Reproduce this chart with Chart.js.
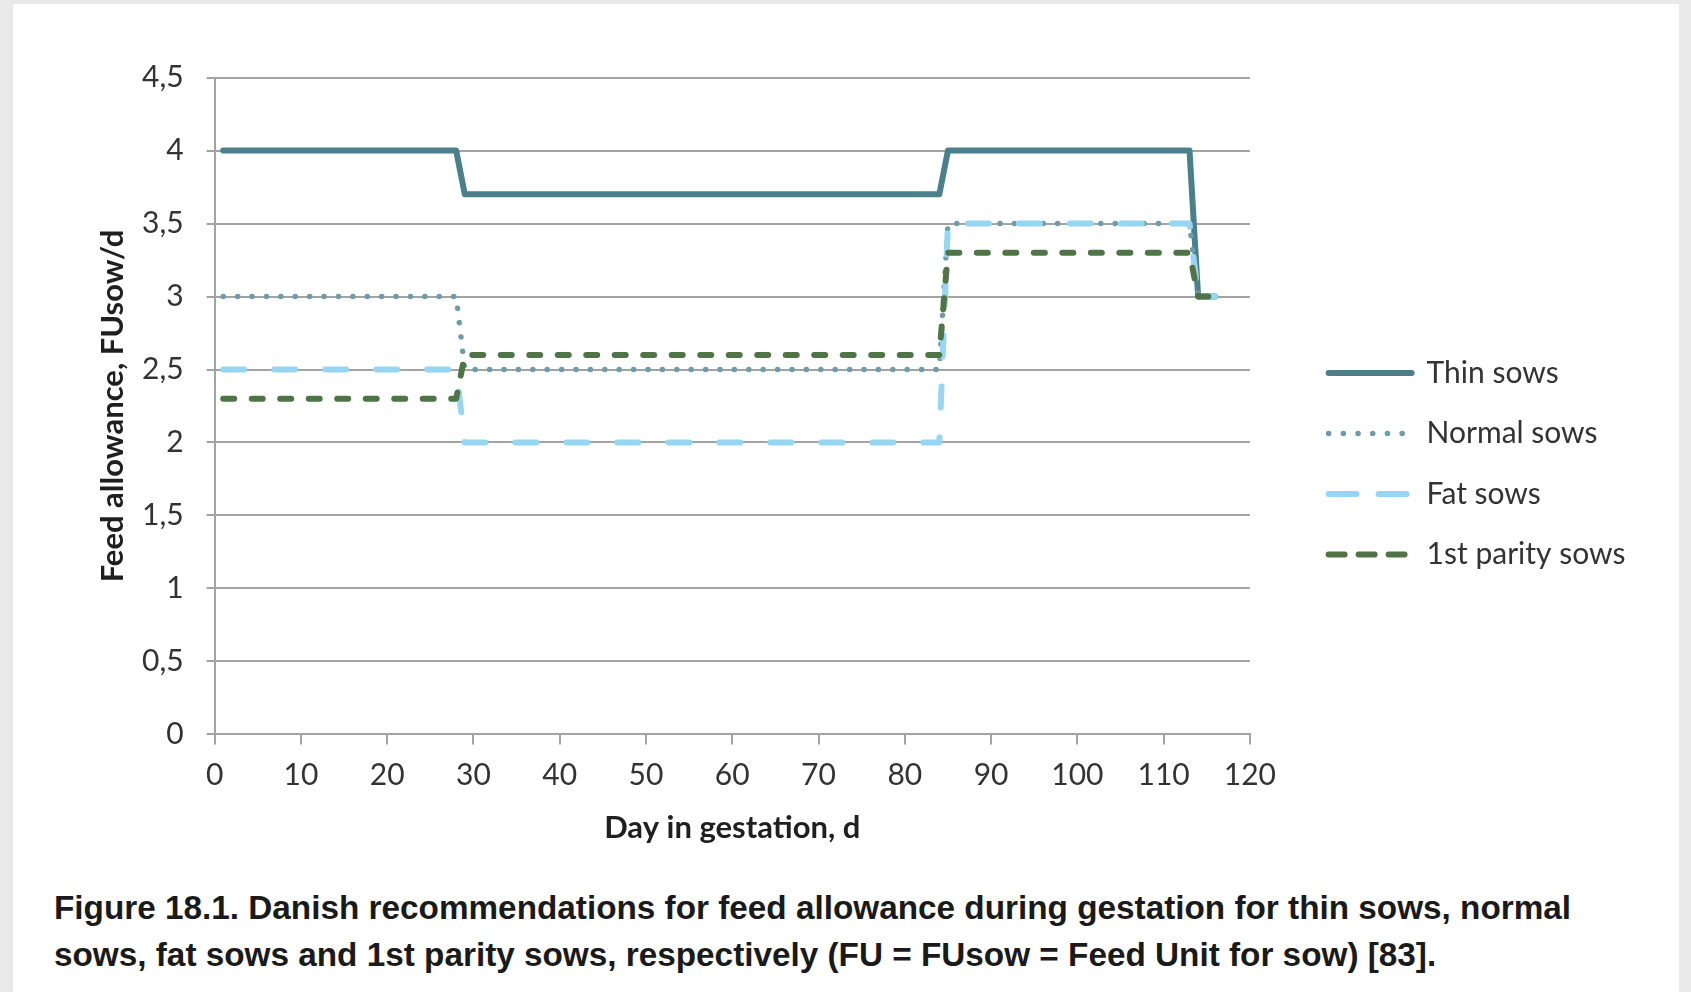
<!DOCTYPE html>
<html>
<head>
<meta charset="utf-8">
<script src="https://cdn.jsdelivr.net/npm/chart.js@4.4.1/dist/chart.umd.min.js"></script>
<style>
  html, body { margin: 0; padding: 0; background: #e9e9e9; }
  #sheet { position: absolute; left: 13px; top: 4px; width: 1666px; height: 988px; background: #fff; }
  #chart { position: absolute; left: 0; top: 0; }
  #caption {
    position: absolute; left: 54px; top: 884px;
    font: bold 33.3px "Liberation Sans", Arial, sans-serif;
    line-height: 47px; color: #1a1a1a; white-space: nowrap;
  }
</style>
</head>
<body>
<div id="sheet"></div>
<canvas id="chart" width="1691" height="850"></canvas>
<div id="caption">Figure 18.1. Danish recommendations for feed allowance during gestation for thin sows, normal<br>sows, fat sows and 1st parity sows, respectively (FU = FUsow = Feed Unit for sow) [83].</div>

<script>
// ---- data ----
const dayPoints   = [1, 28, 29, 84, 85, 113, 114, 116];
const thinSows    = [4, 4, 3.7, 3.7, 4, 4, 3, 3];
const normalSows  = [3, 3, 2.5, 2.5, 3.5, 3.5, 3, 3];
const fatSows     = [2.5, 2.5, 2, 2, 3.5, 3.5, 3, 3];
const firstParity = [2.3, 2.3, 2.6, 2.6, 3.3, 3.3, 3, 3];

const seriesLabels = ['Thin sows', 'Normal sows', 'Fat sows', '1st parity sows'];
const seriesValues = [thinSows, normalSows, fatSows, firstParity];

// ---- styles ----
const colors     = ['#4b7f8c', '#6f9ca8', '#97d6f3', '#4f7546'];
const widths     = [6, 5.5, 6, 6];
const dashes     = [[], [0.1, 14.3], [21, 30], [11, 17.5]];
const legendDash = [[], [0.1, 14.6], [28, 22], [16, 14]];
const drawOrder  = [4, 3, 2, 1];   // later series on top, like the original

const GRID = '#a3a3a3';
const TEXT = '#333333';
const FONT = 'Lato';

// layout targets (px in the 1691x992 page)
const PLOT_LEFT = 214.6, PLOT_RIGHT = 1249.9, PLOT_TOP = 77.6, PLOT_BOTTOM = 734.4;
const CANVAS_W = 1691, CANVAS_H = 850;
const PAD_LEFT = 92;
const LEGEND_X = 1328.6;          // where the legend line samples start
const LEGEND_FS = 30, LEGEND_PAD = 30.5, SAMPLE_W = 83;

// legend box width as chart.js computes it, so it can be placed exactly
const measure = document.createElement('canvas').getContext('2d');
measure.font = `${LEGEND_FS}px ${FONT}`;
const textW = Math.max(...seriesLabels.map(t => measure.measureText(t).width));
const legendW = LEGEND_PAD + SAMPLE_W + LEGEND_FS / 2 + textW + 10;
const PAD_RIGHT = CANVAS_W - (LEGEND_X - LEGEND_PAD) - legendW;

const toPoints = vals => dayPoints.map((d, i) => ({ x: d, y: vals[i] }));

const datasets = seriesLabels.map((label, i) => ({
  label,
  data: toPoints(seriesValues[i]),
  borderColor: colors[i],
  backgroundColor: colors[i],
  borderWidth: widths[i],
  borderDash: dashes[i],
  borderCapStyle: 'round',
  borderJoinStyle: 'round',
  pointRadius: 0,
  tension: 0,
  fill: false,
  order: drawOrder[i]
}));

new Chart(document.getElementById('chart'), {
  type: 'line',
  data: { datasets },
  options: {
    responsive: false,
    animation: false,
    layout: { padding: { left: PAD_LEFT, top: PLOT_TOP, right: PAD_RIGHT, bottom: 0 } },
    plugins: {
      tooltip: { enabled: false },
      legend: {
        position: 'right',
        maxWidth: 600,
        labels: {
          usePointStyle: true,
          pointStyle: 'line',
          pointStyleWidth: SAMPLE_W,
          padding: LEGEND_PAD,
          color: TEXT,
          font: { family: FONT, size: LEGEND_FS },
          generateLabels: chart => chart.data.datasets.map((ds, i) => ({
            text: ds.label,
            strokeStyle: ds.borderColor,
            fillStyle: ds.borderColor,
            fontColor: TEXT,
            lineWidth: ds.borderWidth,
            lineDash: legendDash[i],
            lineCap: 'round',
            pointStyle: 'line',
            hidden: false,
            datasetIndex: i
          }))
        }
      }
    },
    scales: {
      x: {
        type: 'linear',
        min: 0, max: 120,
        ticks: { stepSize: 10, padding: 13, color: TEXT, font: { family: FONT, size: 30 } },
        grid: { drawOnChartArea: false, color: GRID, lineWidth: 2, tickLength: 10 },
        border: { color: GRID, width: 2 },
        title: {
          display: true, text: 'Day in gestation, d', color: '#1f1f1f',
          font: { family: FONT, size: 31, weight: 'bold' }, padding: { top: 4, bottom: 3 }
        },
        afterFit: s => { s.height = CANVAS_H - PLOT_BOTTOM; }
      },
      y: {
        min: 0, max: 4.5,
        ticks: {
          stepSize: 0.5, padding: 23, color: TEXT, font: { family: FONT, size: 30 },
          callback: v => String(v).replace('.', ',')
        },
        grid: { color: GRID, lineWidth: 2, tickLength: 8 },
        border: { color: GRID, width: 2 },
        title: {
          display: true, text: 'Feed allowance, FUsow/d', color: '#1f1f1f',
          font: { family: FONT, size: 31, weight: 'bold' }, padding: { top: 2, bottom: 4 }
        },
        afterFit: s => { s.width = PLOT_LEFT - PAD_LEFT; }
      },
      // empty spacer between plot and legend
      gap: {
        type: 'linear', position: 'right', display: true,
        ticks: { display: false }, grid: { display: false }, border: { display: false },
        afterFit: s => { s.width = (LEGEND_X - LEGEND_PAD) - PLOT_RIGHT; }
      }
    }
  }
});
</script>
</body>
</html>
